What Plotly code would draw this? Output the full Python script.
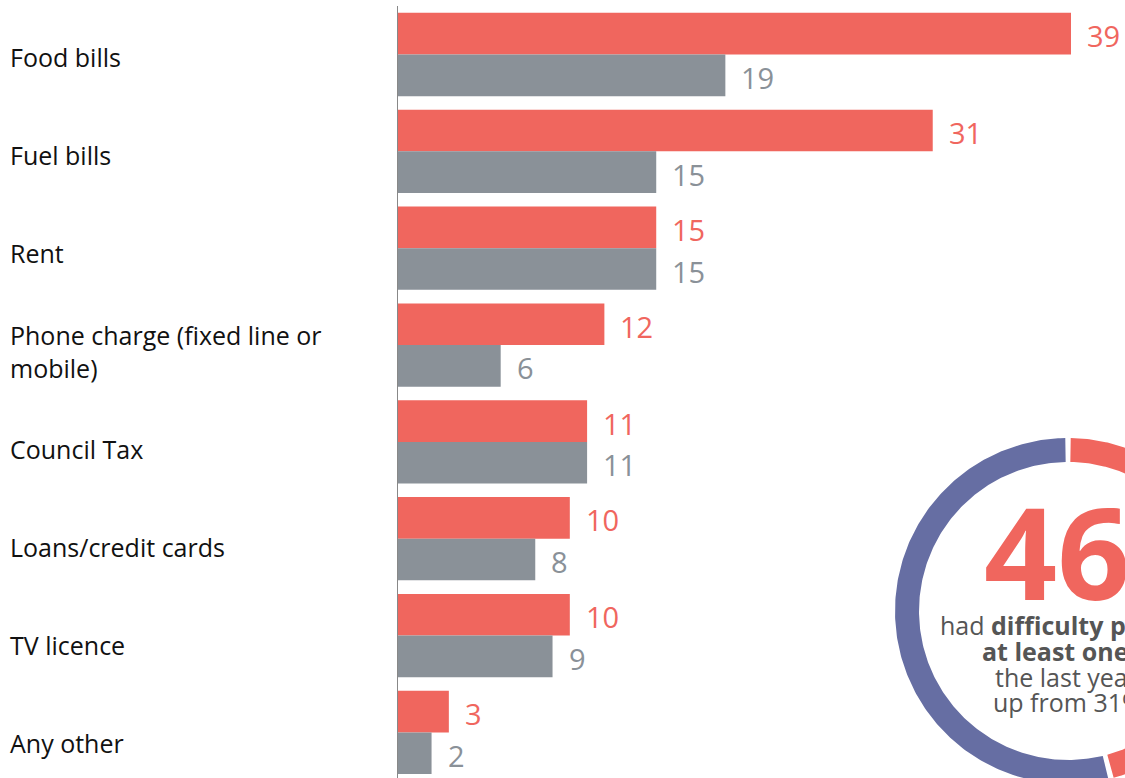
import numpy as np
import plotly.graph_objects as go

categories = ["Food bills", "Fuel bills", "Rent", "Phone charge (fixed line or<br>mobile)",
              "Council Tax", "Loans/credit cards", "TV licence", "Any other"]
series_red = [39, 31, 15, 12, 11, 10, 10, 3]
series_grey = [19, 15, 15, 6, 11, 8, 9, 2]
donut_pct = 46
donut_prev = 31
donut_lines = ["had <b>difficulty paying for</b>", "<b>at least one bill</b> in",
               "the last year,", f"up from {donut_prev}%"]

RED = "#F0665E"
GREY = "#8A9198"
BLUE = "#666EA3"
FONT = "Open Sans"

W, H = 1125, 778
x0px = 397
px_per_unit = (1071 - 397) / 39
cat_step = 97.7
y_top = -55 / cat_step
y_bot = 7 + (H - 732) / cat_step

idx = list(range(len(categories)))

fig = go.Figure()
fig.add_trace(go.Bar(y=idx, x=series_red, orientation="h", marker=dict(color=RED, line=dict(width=0)),
                     showlegend=False, hoverinfo="skip"))
fig.add_trace(go.Bar(y=idx, x=series_grey, orientation="h", marker=dict(color=GREY, line=dict(width=0)),
                     showlegend=False, hoverinfo="skip"))

annotations = []
for i, c in enumerate(categories):
    annotations.append(dict(xref="paper", yref="y", x=8 / W, y=i, text=c, showarrow=False,
                            xanchor="left", yanchor="middle", align="left",
                            yshift=-6 if "<br>" in c else -2 - 1.25 * i,
                            font=dict(family=FONT, size=25, color="#111111")))
for i, (r, g) in enumerate(zip(series_red, series_grey)):
    annotations.append(dict(xref="x", yref="y", x=r, y=i - 0.215, text=str(r), showarrow=False,
                            xanchor="left", yanchor="middle", xshift=14, yshift=-2,
                            font=dict(family=FONT, size=29, color=RED)))
    annotations.append(dict(xref="x", yref="y", x=g, y=i + 0.215, text=str(g), showarrow=False,
                            xanchor="left", yanchor="middle", xshift=14, yshift=-2,
                            font=dict(family=FONT, size=29, color=GREY)))

# donut ring
cx, cy, ro, ri = 1068, 611, 173, 149
gap = 0.0025

def ring(f0, f1):
    t = np.linspace(2 * np.pi * (f0 + gap), 2 * np.pi * (f1 - gap), 240)
    xo = cx + ro * np.sin(t); yo = cy - ro * np.cos(t)
    xi = cx + ri * np.sin(t[::-1]); yi = cy - ri * np.cos(t[::-1])
    return np.concatenate([xo, xi, xo[:1]]), np.concatenate([yo, yi, yo[:1]])

for f0, f1, col in [(0, donut_pct / 100, RED), (donut_pct / 100, 1, BLUE)]:
    xs, ys = ring(f0, f1)
    fig.add_trace(go.Scatter(x=xs, y=ys, xaxis="x2", yaxis="y2", mode="lines", fill="toself",
                             fillcolor=col, line=dict(width=0, color=col), showlegend=False,
                             hoverinfo="skip"))

annotations.append(dict(xref="x2", yref="y2", x=cx - 86, y=550, text=f"<b>{donut_pct}%</b>",
                        showarrow=False, xanchor="left", yanchor="middle",
                        font=dict(family=FONT, size=128, color=RED)))
line_x = [938, 980, 993, 991]
line_y = [625, 651, 677, 702]
for t, lx, ly in zip(donut_lines, line_x, line_y):
    annotations.append(dict(xref="x2", yref="y2", x=lx, y=ly, text=t, showarrow=False,
                            xanchor="left", yanchor="middle", align="left",
                            font=dict(family=FONT, size=25, color="#555555")))

fig.update_layout(
    width=W, height=H, margin=dict(l=0, r=0, t=0, b=0),
    paper_bgcolor="white", plot_bgcolor="rgba(0,0,0,0)",
    barmode="group", bargap=0.14, bargroupgap=0,
    xaxis=dict(domain=[x0px / W, 1], range=[0, (W - x0px) / px_per_unit], visible=False),
    yaxis=dict(domain=[0, 1], range=[y_bot, y_top], visible=False),
    xaxis2=dict(domain=[0, 1], range=[0, W], visible=False, anchor="y2"),
    yaxis2=dict(domain=[0, 1], range=[H, 0], visible=False, anchor="x2"),
    shapes=[dict(type="line", xref="x", yref="y", x0=0, x1=0, y0=-0.5, y1=y_bot,
                 line=dict(color="#888888", width=2))],
    annotations=annotations,
)

fig.write_html("out.html")
